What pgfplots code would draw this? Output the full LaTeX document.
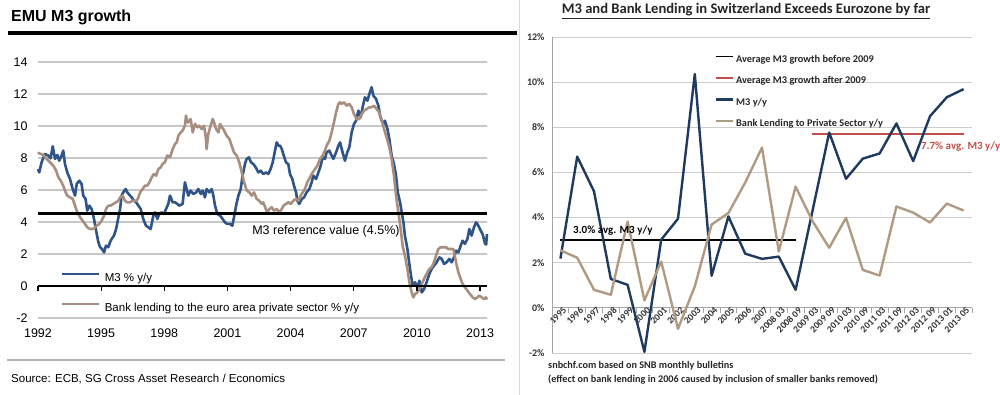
\documentclass[border=0pt]{standalone}
\usepackage{fontspec}
\setmainfont{Liberation Sans}
\newfontfamily\calfont{Carlito}
\usepackage{pgfplots}
\pgfplotsset{compat=1.18}
\definecolor{emublue}{HTML}{2F5487}
\definecolor{emubrown}{HTML}{A88E7E}
\definecolor{chnavy}{HTML}{1F3A5F}
\definecolor{chtan}{HTML}{B09A82}
\definecolor{chred}{HTML}{C0504D}
\begin{document}
\begin{tikzpicture}[x=1pt,y=1pt]
\useasboundingbox[fill=white] (0,0) rectangle (1000,395);
% ---------- left panel decorations
\node[anchor=west, font=\bfseries\fontsize{16}{16}\selectfont, inner sep=0pt] at (11,378) {EMU M3 growth};
\draw[line width=4pt] (8,362) -- (517,362);
\draw[black!30, line width=1.2pt] (7,35) -- (505,35);
\node[anchor=west, font=\fontsize{11.5}{11.5}\selectfont, inner sep=0pt] at (11,16) {Source: ECB, SG Cross Asset Research / Economics};
\draw[black!15, line width=0.8pt] (519,0) -- (519,395);

\begin{axis}[
  at={(38pt,77pt)}, anchor=south west, scale only axis,
  width=449pt, height=256pt,
  xmin=1992, xmax=2013.33, ymin=-2, ymax=14, clip=false,
  axis line style={draw=none}, major tick length=0pt,
  xtick={1992,1995,1998,2001,2004,2007,2010,2013},
  xticklabels={1992,1995,1998,2001,2004,2007,2010,2013},
  ytick={-2,0,2,4,6,8,10,12,14},
  yticklabels={-2,0,2,4,6,8,10,12,14},
  ymajorgrids, grid style={color=black!22, line width=1.3pt},
  tick label style={font=\fontsize{12.5}{12.5}\selectfont},
  xticklabel style={yshift=-7pt},
  yticklabel style={xshift=-7pt},
  legend image code/.code={\draw[#1] (0pt,4pt) -- (37pt,4pt); \path (41pt,0pt);},
  legend style={at={(axis cs:1992.95,-0.45)}, anchor=west, draw=none, fill=none,
    font=\fontsize{11.5}{11.5}\selectfont, row sep=18pt,
    nodes={inner sep=0pt, text height=9pt, text depth=3pt}},
  legend cell align=left,
]
\addplot[emublue, line width=2.6pt, line join=round] table {
x y
1992.00 7.31
1992.06 7.10
1992.17 7.73
1992.33 8.25
1992.49 8.15
1992.60 7.98
1992.70 8.73
1992.81 7.94
1992.92 8.19
1993.01 7.83
1993.12 8.15
1993.20 8.46
1993.28 7.63
1993.39 7.10
1993.52 6.69
1993.65 6.06
1993.76 5.65
1993.84 6.38
1993.96 6.58
1994.07 6.38
1994.15 5.65
1994.26 5.44
1994.34 4.71
1994.44 5.02
1994.55 4.81
1994.66 4.19
1994.76 3.46
1994.87 2.73
1994.95 2.42
1995.02 2.35
1995.14 2.10
1995.23 2.52
1995.34 2.42
1995.42 2.73
1995.50 2.94
1995.61 3.15
1995.71 3.56
1995.82 4.29
1995.90 4.81
1995.97 5.65
1996.05 5.85
1996.16 6.06
1996.24 5.85
1996.37 5.65
1996.45 5.54
1996.56 5.33
1996.66 5.23
1996.77 5.02
1996.88 4.81
1997.00 4.19
1997.13 3.77
1997.24 3.67
1997.35 3.56
1997.48 4.40
1997.56 4.60
1997.67 4.19
1997.76 4.50
1997.87 4.60
1997.99 4.50
1998.08 4.81
1998.19 5.13
1998.27 5.65
1998.40 5.23
1998.51 5.23
1998.62 5.13
1998.71 5.02
1998.87 5.13
1998.98 6.48
1999.06 6.06
1999.14 5.65
1999.25 5.96
1999.38 5.75
1999.51 5.85
1999.62 6.06
1999.73 5.75
1999.82 5.96
1999.93 5.54
2000.01 6.06
2000.14 5.85
2000.25 6.06
2000.33 5.65
2000.41 5.02
2000.52 4.50
2000.65 4.40
2000.77 4.19
2000.88 3.98
2000.99 3.88
2001.12 3.88
2001.23 3.77
2001.31 4.29
2001.41 5.02
2001.52 5.65
2001.63 6.06
2001.72 6.90
2001.83 7.62
2001.91 7.94
2002.02 8.04
2002.12 7.73
2002.23 7.62
2002.34 7.42
2002.47 7.10
2002.58 7.21
2002.70 7.00
2002.83 7.10
2002.94 7.00
2003.05 7.31
2003.15 7.73
2003.26 8.46
2003.34 8.98
2003.42 8.77
2003.50 8.77
2003.58 8.56
2003.65 8.25
2003.78 7.73
2003.89 7.62
2003.97 7.00
2004.08 6.69
2004.16 6.27
2004.26 5.85
2004.32 5.33
2004.41 5.13
2004.53 5.44
2004.64 5.54
2004.76 5.85
2004.89 6.06
2005.00 6.48
2005.08 6.90
2005.21 6.69
2005.32 7.10
2005.43 7.52
2005.52 8.04
2005.63 7.94
2005.71 8.35
2005.84 8.46
2005.95 8.15
2006.03 7.94
2006.16 8.35
2006.27 8.77
2006.35 8.98
2006.47 8.35
2006.58 7.83
2006.69 8.35
2006.79 8.67
2006.90 9.60
2007.01 10.12
2007.11 10.33
2007.22 10.96
2007.33 10.54
2007.42 11.17
2007.53 11.79
2007.65 11.58
2007.74 12.00
2007.85 12.42
2007.93 11.90
2008.06 11.69
2008.17 11.27
2008.25 10.65
2008.33 10.33
2008.41 10.12
2008.48 10.33
2008.60 9.81
2008.69 9.19
2008.80 8.15
2008.91 7.62
2009.01 6.90
2009.09 5.85
2009.20 5.23
2009.28 4.60
2009.36 3.98
2009.43 3.15
2009.55 2.31
2009.64 1.38
2009.72 0.65
2009.80 0.02
2009.91 0.23
2010.02 -0.08
2010.12 0.33
2010.23 -0.40
2010.34 -0.19
2010.46 0.23
2010.59 0.75
2010.70 1.06
2010.81 1.27
2010.94 1.48
2011.07 1.79
2011.18 1.69
2011.29 1.38
2011.41 1.48
2011.54 1.69
2011.65 1.48
2011.76 1.79
2011.86 2.21
2011.97 2.10
2012.08 2.52
2012.17 2.83
2012.28 2.63
2012.40 2.94
2012.49 3.56
2012.60 3.15
2012.71 3.67
2012.81 3.98
2012.92 3.77
2013.03 3.46
2013.12 3.25
2013.24 2.63
2013.29 2.60
2013.33 3.25
};
\addlegendentry{M3 \% y/y}
\addplot[emubrown, line width=2.6pt, line join=round] table {
x y
1992.00 8.35
1992.03 8.31
1992.25 8.19
1992.41 7.94
1992.57 7.73
1992.73 7.52
1992.86 7.21
1992.97 6.79
1993.08 6.58
1993.20 6.27
1993.28 5.96
1993.39 5.65
1993.52 5.54
1993.65 5.44
1993.76 5.02
1993.87 4.60
1994.00 4.29
1994.12 4.08
1994.23 3.88
1994.34 3.67
1994.47 3.56
1994.60 3.56
1994.71 3.67
1994.79 3.77
1994.91 3.88
1995.02 4.08
1995.14 4.40
1995.23 4.81
1995.34 5.02
1995.45 5.02
1995.58 5.13
1995.71 5.23
1995.82 5.33
1995.90 5.54
1996.02 5.65
1996.13 5.33
1996.24 5.23
1996.37 5.23
1996.50 5.33
1996.61 5.33
1996.69 5.33
1996.77 5.54
1996.85 5.85
1996.97 6.06
1997.08 6.27
1997.19 6.27
1997.29 6.48
1997.40 6.79
1997.51 7.00
1997.61 6.90
1997.72 7.31
1997.83 7.42
1997.92 7.63
1998.03 7.73
1998.14 8.15
1998.27 8.04
1998.40 8.56
1998.51 8.88
1998.59 8.98
1998.67 9.40
1998.78 9.60
1998.87 9.71
1998.98 10.02
1999.03 10.65
1999.09 10.23
1999.14 10.23
1999.25 10.44
1999.35 9.60
1999.46 10.13
1999.57 9.92
1999.66 10.02
1999.78 9.81
1999.89 10.02
1999.98 9.19
2000.01 8.56
2000.09 9.50
2000.20 10.02
2000.30 10.44
2000.36 10.23
2000.46 9.81
2000.57 9.60
2000.65 10.13
2000.73 9.92
2000.80 9.81
2000.96 9.40
2001.09 9.19
2001.20 8.77
2001.31 8.35
2001.44 8.15
2001.56 7.73
2001.68 7.10
2001.79 6.48
2001.92 5.96
2002.04 5.85
2002.15 5.65
2002.26 5.85
2002.39 5.44
2002.51 5.33
2002.63 5.13
2002.70 5.23
2002.79 4.92
2002.89 4.60
2002.99 4.81
2003.10 4.92
2003.21 4.71
2003.34 4.81
2003.46 4.60
2003.58 4.81
2003.66 5.02
2003.78 5.13
2003.89 5.23
2004.00 5.13
2004.13 5.33
2004.26 5.44
2004.37 5.33
2004.48 5.65
2004.57 5.85
2004.68 6.06
2004.79 6.48
2004.92 6.79
2005.05 7.10
2005.16 7.31
2005.27 7.52
2005.40 7.94
2005.52 8.15
2005.63 8.46
2005.71 8.77
2005.84 9.08
2005.95 9.60
2006.06 10.23
2006.16 10.85
2006.27 11.38
2006.35 11.48
2006.42 11.38
2006.54 11.48
2006.66 11.27
2006.79 11.38
2006.90 11.17
2007.01 10.75
2007.14 10.44
2007.27 10.44
2007.38 10.75
2007.49 10.96
2007.61 11.06
2007.74 11.17
2007.85 11.17
2007.96 11.27
2008.09 11.06
2008.21 10.85
2008.33 10.33
2008.44 9.81
2008.56 9.29
2008.69 8.67
2008.80 7.94
2008.91 6.90
2009.01 5.65
2009.12 4.60
2009.23 3.56
2009.32 2.52
2009.43 1.90
2009.55 1.06
2009.64 0.23
2009.75 -0.40
2009.83 -0.71
2009.91 -0.50
2010.02 -0.40
2010.12 -0.19
2010.23 0.13
2010.34 0.44
2010.46 0.75
2010.59 1.06
2010.70 1.17
2010.81 1.48
2010.91 1.90
2011.02 2.31
2011.13 2.42
2011.26 2.42
2011.38 2.42
2011.49 2.31
2011.60 2.31
2011.73 2.31
2011.86 1.48
2011.97 0.85
2012.08 0.44
2012.17 0.13
2012.28 -0.08
2012.40 -0.29
2012.52 -0.50
2012.65 -0.71
2012.76 -0.81
2012.87 -0.71
2012.96 -0.60
2013.08 -0.71
2013.19 -0.81
2013.28 -0.71
2013.33 -0.85
};
\addlegendentry{Bank lending to the euro area private sector \% y/y}
\addplot[black, line width=3pt, forget plot] coordinates {(1992,4.5) (2013.33,4.5)};
\addplot[black, line width=2pt, forget plot] coordinates {(1992,0) (2013.33,0)};
\addplot[black, line width=1.3pt, ycomb, no marks, forget plot] coordinates {(1992,-0.3) (1995,-0.3) (1998,-0.3) (2001,-0.3) (2004,-0.3) (2007,-0.3) (2010,-0.3) (2013,-0.3)};
\node[anchor=west, font=\fontsize{12.5}{12.5}\selectfont, inner sep=0pt] at (axis cs:2002.17,3.44) {M3 reference value (4.5\%)};
\end{axis}

% ---------- right panel
\node[font=\calfont\bfseries\fontsize{14.6}{14.6}\selectfont, text=black!85, inner sep=0pt] at (746,384) {\underline{M3 and Bank Lending in Switzerland Exceeds Eurozone by far}};
\node[anchor=base west, font=\calfont\bfseries\fontsize{10.2}{10.2}\selectfont, text=black!85, inner sep=0pt] at (548,26.5) {snbchf.com based on SNB monthly bulletins};
\node[anchor=base west, font=\calfont\bfseries\fontsize{10.2}{10.2}\selectfont, text=black!85, inner sep=0pt] at (548,12.5) {(effect on bank lending in 2006 caused by inclusion of smaller banks removed)};

\begin{axis}[
  at={(552pt,42pt)}, anchor=south west, scale only axis,
  width=420pt, height=316pt,
  xmin=-0.5, xmax=24.5, ymin=-2, ymax=12, clip=false,
  axis x line=middle, axis y line=left,
  axis line style={-, draw=black!35, line width=0.8pt},
  hide obscured x ticks=false, hide obscured y ticks=false,
  xtick={0,...,24},
  xticklabels={1995,1996,1997,1998,1999,2000,2001,2002,2003,2004,2005,2006,2007,2008 03,2008 09,2009 03,2009 09,2010 03,2010 09,2011 03,2011 09,2012 03,2012 09,2013 01,2013 05},
  minor xtick={-0.5,0.5,...,24.5},
  major tick length=0pt, minor tick length=5pt, tick align=outside,
  minor tick style={black!35, line width=0.8pt},
  ytick={-2,0,2,4,6,8,10,12},
  yticklabels={-2\%,0\%,2\%,4\%,6\%,8\%,10\%,12\%},
  ymajorgrids, grid style={black!20, line width=0.8pt},
  xticklabel style={rotate=45, anchor=north east, font=\calfont\bfseries\fontsize{9.5}{9.5}\selectfont, text=black!80, inner sep=0.5pt, xshift=3pt},
  yticklabel style={font=\calfont\bfseries\fontsize{10}{10}\selectfont, text=black!80, xshift=-4pt},
  legend image code/.code={\draw[#1] (0pt,3.5pt) -- (17pt,3.5pt); \path (19pt,0pt);},
  legend style={at={(axis cs:9.0,11.3)}, anchor=north west, draw=none, fill=none,
    font=\calfont\bfseries\fontsize{10.3}{10.3}\selectfont, row sep=11.5pt,
    nodes={inner sep=0pt, text height=7.5pt, text depth=2.5pt, text=black!85}},
  legend cell align=left,
]
\addplot[black, line width=1.8pt] coordinates {(0,3.0) (14,3.0)};
\addlegendentry{Average M3 growth before 2009}
\addplot[chred, line width=1.8pt] coordinates {(15,7.7) (24,7.7)};
\addlegendentry{Average M3 growth after 2009}
\addplot[chnavy, line width=2.4pt, line join=round] table {
x y
0 2.18
1 6.70
2 5.16
3 1.28
4 1.02
5 -1.95
6 3.02
7 3.95
8 10.36
9 1.42
10 4.05
11 2.40
12 2.17
13 2.27
14 0.80
15 4.28
16 7.77
17 5.72
18 6.61
19 6.84
20 8.17
21 6.50
22 8.49
23 9.33
24 9.69
};
\addlegendentry{M3 y/y}
\addplot[chtan, line width=2.4pt, line join=round] table {
x y
0 2.55
1 2.22
2 0.80
3 0.58
4 3.82
5 0.33
6 2.05
7 -0.93
8 0.95
9 3.69
10 4.20
11 5.55
12 7.10
13 2.50
14 5.37
15 3.85
16 2.66
17 3.99
18 1.68
19 1.43
20 4.49
21 4.22
22 3.78
23 4.62
24 4.31
};
\addlegendentry{Bank Lending to Private Sector y/y}
\node[anchor=base west, font=\calfont\bfseries\fontsize{11}{11}\selectfont, inner sep=0pt] at (axis cs:0.75,3.28) {3.0\% avg. M3 y/y};
\node[anchor=base west, font=\calfont\bfseries\fontsize{11}{11}\selectfont, text=chred, inner sep=0pt] at (axis cs:21.46,7.0) {7.7\% avg. M3 y/y};
\end{axis}
\end{tikzpicture}
\end{document}
